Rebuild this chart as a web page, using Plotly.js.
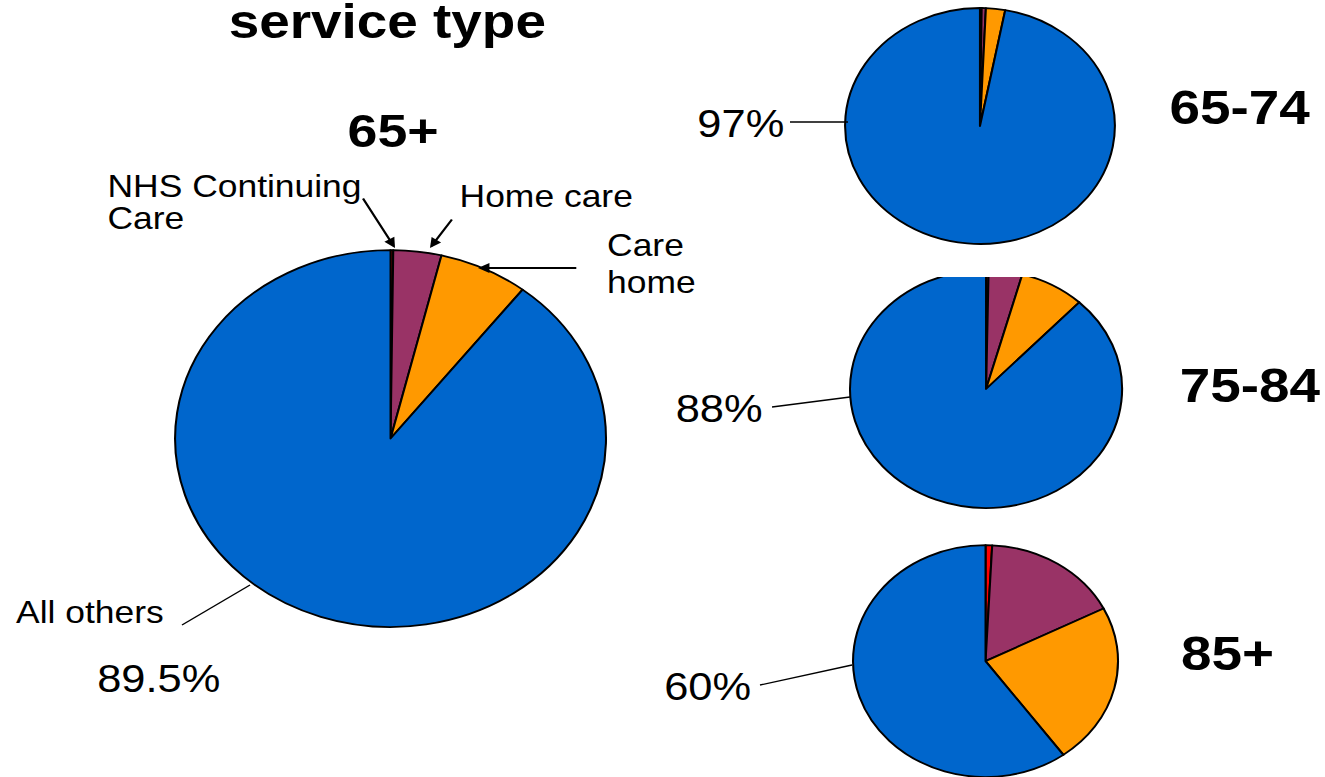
<!DOCTYPE html>
<html>
<head>
<meta charset="utf-8">
<script src="https://cdn.plot.ly/plotly-3.0.1.min.js"></script>
<style>
  html, body { margin: 0; padding: 0; background: #fff; }
  #wrap { width: 1325px; height: 777px; overflow: hidden; position: relative; }
  #chart { width: 1159px; height: 777px; transform: scaleX(1.14322); transform-origin: 0 0; }
</style>
</head>
<body>
<div id="wrap"><div id="chart"></div></div>
<script>
// ---- data ----
const categories = ['NHS Continuing Care', 'Home care', 'Care home', 'All others'];
const colors = ['#FF0000', '#993366', '#FF9900', '#0066CC'];
const values65plus = [0.2, 3.6, 6.7, 89.5];
const values65to74 = [0.2, 0.5, 2.3, 97];
const values75to84 = [0.3, 4.0, 7.7, 88];
const values85plus = [0.8, 16.7, 22.5, 60];
const groupLabels = ['65+', '65-74', '75-84', '85+'];
const othersLabels = ['89.5%', '97%', '88%', '60%'];

// ---- chart ----
const W = 1159, H = 777;
const FONT = 'Liberation Sans, Arial, sans-serif';

function pie(values, name, dx, dy) {
  return {
    type: 'pie', name: name, labels: categories, values: values,
    sort: false, direction: 'clockwise', rotation: 0,
    textinfo: 'none', hoverinfo: 'label+percent',
    marker: { colors: colors, line: { color: '#000', width: 1.8 } },
    domain: { x: dx, y: dy }, showlegend: false
  };
}

const data = [
  { type: 'scatter', x: [], y: [], hoverinfo: 'skip', showlegend: false },
  pie(values65plus, groupLabels[0], [0.1321, 0.4574], [0.1931, 0.6782]),
  pie(values65to74, groupLabels[1], [0.6377, 0.8415], [0.686, 0.9897]),
  pie(values75to84, groupLabels[2], [0.6415, 0.8469], [0.3462, 0.6525]),
  pie(values85plus, groupLabels[3], [0.6437, 0.8439], [0.0, 0.2983])
];

function txt(text, x, y, size, bold, anchor) {
  return {
    text: bold ? '<b>' + text + '</b>' : text,
    x: x, y: y, xref: 'x', yref: 'y', showarrow: false,
    xanchor: anchor || 'left', yanchor: 'middle',
    font: { family: FONT, size: size, color: '#000' }
  };
}
function arrow(x, y, ax, ay) {
  return {
    text: '', x: x, y: y, ax: ax, ay: ay, xref: 'x', yref: 'y', axref: 'x', ayref: 'y',
    showarrow: true, arrowhead: 2, arrowsize: 1, arrowwidth: 2, arrowcolor: '#000', standoff: 0
  };
}
function leader(x0, y0, x1, y1) {
  return { type: 'line', xref: 'x', yref: 'y', x0: x0, y0: y0, x1: x1, y1: y1,
           line: { color: '#000', width: 1.3 } };
}

const annotations = [
  txt('service type', 339.4, 21, 48, true, 'center'),
  txt(groupLabels[0], 343.8, 130, 47, true, 'center'),
  txt(groupLabels[1], 1084.7, 107.5, 48, true, 'center'),
  txt(groupLabels[2], 1093, 385, 48, true, 'center'),
  txt(groupLabels[3], 1073.7, 653.5, 48, true, 'center'),
  txt('NHS Continuing', 91.8, 186.5, 31, false),
  txt('Care', 91.8, 218.5, 31, false),
  txt('Home care', 399.8, 196, 31, false),
  txt('Care', 529.2, 245, 31, false),
  txt('home', 529.2, 282, 31, false),
  txt('All others', 12.2, 612.5, 31, false),
  txt(othersLabels[0], 83.1, 678.5, 38, false),
  txt(othersLabels[1], 608, 124, 38, false),
  txt(othersLabels[2], 588.7, 409, 38, false),
  txt(othersLabels[3], 579, 687, 38, false),
  arrow(345.5, 248, 316.7, 197),
  arrow(376.1, 248, 396.3, 218),
  arrow(418.1, 268, 505.6, 268)
];

const shapes = [
  leader(159.2, 625, 218.7, 585),
  leader(691, 122, 741.8, 122),
  leader(675.3, 407, 743.5, 397),
  leader(664.8, 685, 745.3, 665),
  { type: 'rect', xref: 'x', yref: 'y', x0: 770, x1: 962, y0: 255, y1: 277,
    fillcolor: '#fff', line: { width: 0 }, layer: 'above' }
];

const layout = {
  width: W, height: H,
  margin: { l: 0, r: 0, t: 0, b: 0, pad: 0 },
  paper_bgcolor: '#fff', plot_bgcolor: 'rgba(0,0,0,0)',
  showlegend: false,
  xaxis: { range: [0, W], visible: false, fixedrange: true },
  yaxis: { range: [H, 0], visible: false, fixedrange: true },
  annotations: annotations,
  shapes: shapes
};

Plotly.newPlot('chart', data, layout, { displayModeBar: false, staticPlot: true });
</script>
</body>
</html>
